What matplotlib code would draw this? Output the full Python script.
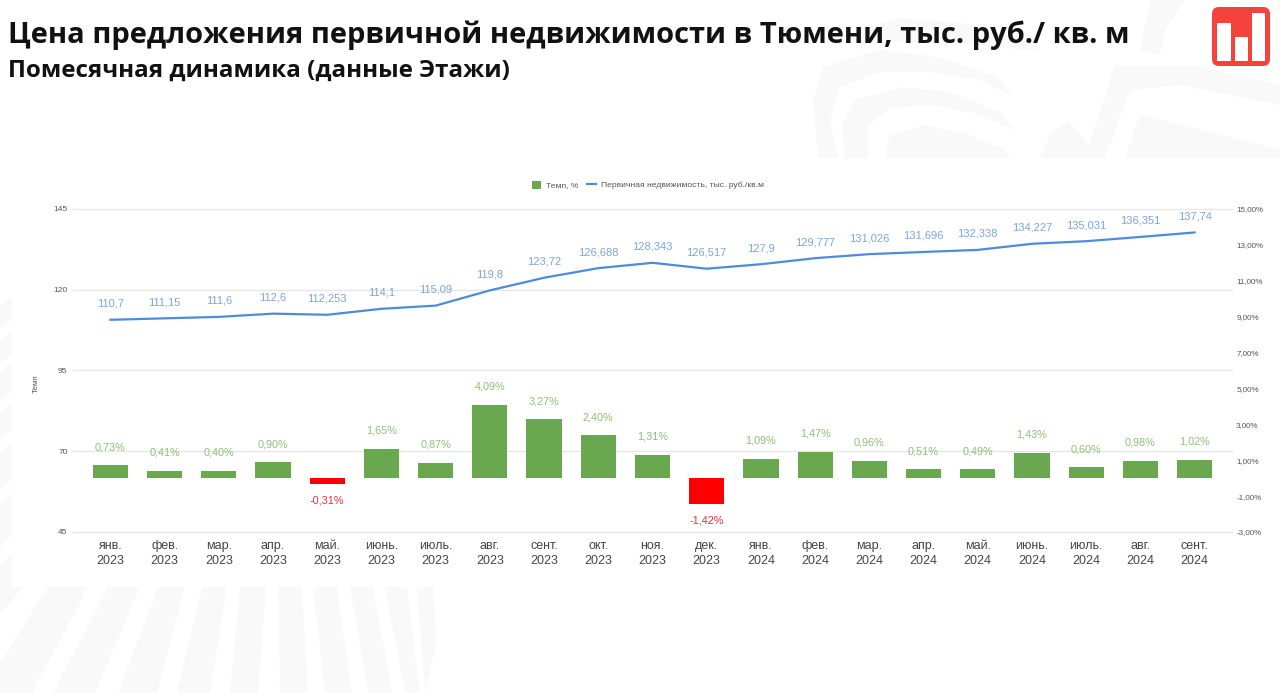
import matplotlib
matplotlib.use("Agg")
import matplotlib.pyplot as plt
from matplotlib.lines import Line2D
from matplotlib.patches import FancyBboxPatch, Patch, Polygon, Rectangle

W, H = 1280, 693

months = ["янв.", "фев.", "мар.", "апр.", "май.", "июнь.", "июль.", "авг.", "сент.", "окт.", "ноя.", "дек.",
          "янв.", "фев.", "мар.", "апр.", "май.", "июнь.", "июль.", "авг.", "сент."]
years = ["2023"] * 12 + ["2024"] * 9
price = [110.7, 111.15, 111.6, 112.6, 112.253, 114.1, 115.09, 119.8, 123.72, 126.688, 128.343, 126.517,
         127.9, 129.777, 131.026, 131.696, 132.338, 134.227, 135.031, 136.351, 137.74]
rate = [0.73, 0.41, 0.40, 0.90, -0.31, 1.65, 0.87, 4.09, 3.27, 2.40, 1.31, -1.42,
        1.09, 1.47, 0.96, 0.51, 0.49, 1.43, 0.60, 0.98, 1.02]
left_ticks = [45, 70, 95, 120, 145]
right_ticks = [-3, -1, 1, 3, 5, 7, 9, 11, 13, 15]

GREEN = "#6aa84f"
RED = "#ff0000"
BLUE = "#4f8bdc"
STRIPE = "#f9f9f9"

# backdrop stripes, in pixels of the slide
bottom_stripes = [
    [(0, 587), (24, 587), (0, 613)],
    [(48, 587), (88, 587), (32, 693), (0, 693), (0, 663)],
    [(108, 587), (140, 587), (95, 693), (53, 693)],
    [(158, 587), (185, 587), (157, 693), (118, 693)],
    [(202, 587), (227, 587), (210, 693), (177, 693)],
    [(240, 587), (266, 587), (258, 693), (230, 693)],
    [(278, 587), (302, 587), (308, 693), (280, 693)],
    [(313, 587), (337, 587), (352, 693), (325, 693)],
    [(350, 587), (373, 587), (392, 693), (368, 693)],
    [(385, 587), (407, 587), (420, 693), (405, 693)],
    [(417, 587), (433, 587), (437, 640), (425, 693)],
]
top_stripes = [
    [(818, 158), (813, 100), (823, 67), (880, 50), (940, 57), (997, 77), (1013, 97), (980, 80), (930, 72),
     (880, 72), (840, 87), (830, 120), (838, 158)],
    [(845, 158), (842, 125), (855, 100), (900, 87), (950, 92), (1000, 112), (1015, 130), (975, 113), (930, 105),
     (890, 108), (868, 125), (868, 158)],
    [(885, 158), (890, 135), (925, 125), (965, 133), (1005, 150), (1010, 158)],
    [(1085, 158), (1115, 65), (1190, 65), (1280, 85), (1280, 105), (1180, 85), (1130, 90), (1105, 158)],
    [(1125, 158), (1140, 115), (1280, 150), (1280, 158)],
    [(1040, 158), (1050, 135), (1068, 120), (1100, 158)],
    [(840, 35), (900, 18), (980, 25), (1040, 50), (1000, 48), (930, 38), (860, 45)],
    [(1150, 0), (1185, 0), (1165, 30), (1160, 55), (1140, 50)],
]
left_blocks = [
    [(0, 305), (12, 297), (12, 320), (0, 328)],
    [(0, 340), (12, 332), (12, 355), (0, 363)],
    [(0, 372), (12, 364), (12, 392), (0, 400)],
    [(0, 412), (12, 403), (12, 430), (0, 440)],
    [(0, 452), (12, 443), (12, 480), (0, 490)],
    [(0, 505), (12, 493), (12, 535), (0, 548)],
    [(0, 565), (12, 553), (12, 587), (0, 587)],
]
logo_bars = [(1217, 23, 14, 38), (1235, 37, 13, 24), (1252, 13, 13, 48)]

fig = plt.figure(figsize=(W / 100, H / 100), dpi=100, facecolor="white")

bg = fig.add_axes([0, 0, 1, 1], zorder=-1)
bg.set_xlim(0, W)
bg.set_ylim(H, 0)
bg.axis("off")
for pts in bottom_stripes + top_stripes + left_blocks:
    bg.add_patch(Polygon(pts, closed=True, facecolor=STRIPE, edgecolor="none"))
bg.add_patch(FancyBboxPatch((1216, 11), 50, 51, boxstyle="round,pad=4,rounding_size=7",
                            facecolor="#f4433c", edgecolor="none"))
for bx, by, bw, bh in logo_bars:
    bg.add_patch(Rectangle((bx, by), bw, bh, facecolor="white", edgecolor="none"))
bg.text(8, 43, "Цена предложения первичной недвижимости в Тюмени, тыс. руб./ кв. м",
        family="Open Sans", fontweight="bold", fontsize=20.95, color="#111111")
bg.text(8, 77, "Помесячная динамика (данные Этажи)",
        family="Open Sans", fontweight="bold", fontsize=17.4, color="#111111")

ax_left, ax_right, ax_top, ax_bottom = 73, 1232, 209, 532
ax = fig.add_axes([ax_left / W, 1 - ax_bottom / H, (ax_right - ax_left) / W, (ax_bottom - ax_top) / H])
ax.patch.set_alpha(0)
x = list(range(len(price)))
ax.plot(x, price, color=BLUE, linewidth=1.6, solid_joinstyle="round")
for xi, v in zip(x, price):
    ax.annotate(str(v).replace(".", ","), (xi, v), xytext=(0, 16), textcoords="offset pixels",
                ha="center", va="center", fontsize=8, color="#7ba5dd", family="Liberation Sans")
ax.set_ylim(45, 145)
ax.set_yticks(left_ticks)
ax.set_xlim(-0.69, 20.69)
ax.set_xticks(x)
ax.set_xticklabels([f"{m}\n{y}" for m, y in zip(months, years)], fontsize=9, color="#444444",
                   family="Liberation Sans", linespacing=1.3)
ax.tick_params(axis="x", length=0, pad=6)
ax.tick_params(axis="y", length=0, pad=4, labelsize=6, labelcolor="#555555")
ax.grid(True, axis="y", color="#e6e6e6", linewidth=1)
for line in ax.get_ygridlines():
    line.set_clip_on(False)
ax.set_axisbelow(True)
for side in ax.spines:
    ax.spines[side].set_visible(False)
ax.set_ylabel("Темп", fontsize=5.8, color="#555555", family="Liberation Sans")
ax.yaxis.set_label_coords(-0.0285, 0.458)

ax2 = ax.twinx()
ax2.patch.set_alpha(0)
colors = [GREEN if v >= 0 else RED for v in rate]
ax2.bar(x, rate, width=0.65, color=colors)
for xi, v, c in zip(x, rate, colors):
    label = f"{v:.2f}%".replace(".", ",")
    if v >= 0:
        ax2.annotate(label, (xi, v), xytext=(0, 18), textcoords="offset pixels", ha="center", va="center",
                     fontsize=7.8, color="#8fbf78", family="Liberation Sans")
    else:
        ax2.annotate(label, (xi, v), xytext=(0, -17), textcoords="offset pixels", ha="center", va="center",
                     fontsize=7.8, color="#e8303a", family="Liberation Sans")
ax2.set_ylim(-3, 15)
ax2.set_yticks(right_ticks)
ax2.set_yticklabels([f"{t:.2f}%".replace(".", ",") for t in right_ticks], fontsize=5.8, color="#555555",
                    family="Liberation Sans")
ax2.tick_params(axis="y", length=0, pad=3)
for side in ax2.spines:
    ax2.spines[side].set_visible(False)
for lab in ax.get_yticklabels():
    lab.set_family("Liberation Sans")

handles = [Patch(facecolor=GREEN, edgecolor="none"), Line2D([0], [0], color=BLUE, linewidth=1.6)]
fig.legend(handles, ["Темп, %", "Первичная недвижимость, тыс. руб./кв.м"], loc="center",
           bbox_to_anchor=(648 / W, 1 - 185 / H), ncol=2, frameon=False, handlelength=1.1, handleheight=1.1,
           columnspacing=1.0, handletextpad=0.6, prop={"family": "Liberation Sans", "size": 6.1},
           labelcolor="#555555")

fig.savefig("out.png", dpi=100)
